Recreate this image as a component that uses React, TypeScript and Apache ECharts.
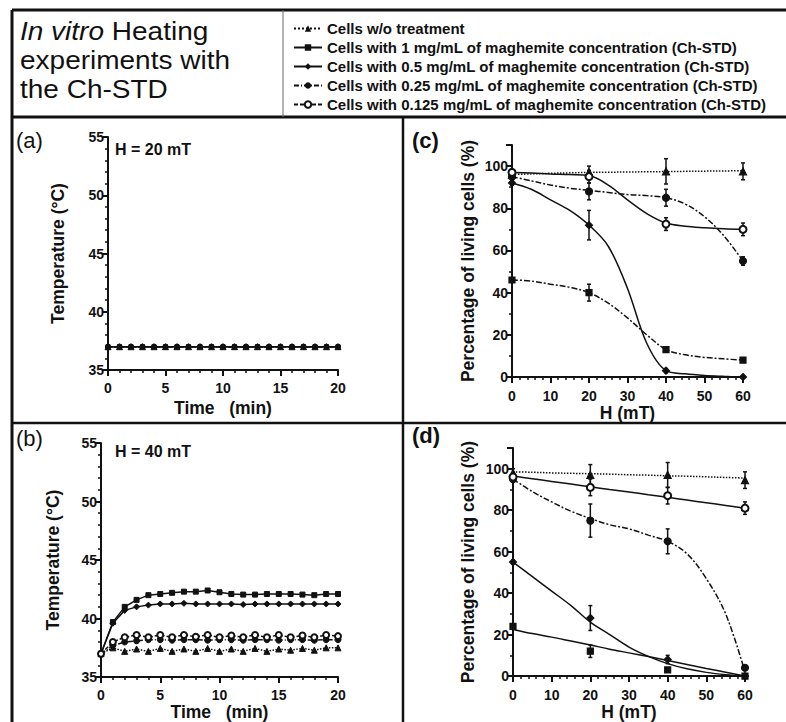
import React, { useEffect, useRef } from "react";
import * as echarts from "echarts";

// ---------- data ----------
const seriesNames = [
  "Cells w/o treatment",
  "Cells with 1 mg/mL of maghemite concentration (Ch-STD)",
  "Cells with 0.5 mg/mL of maghemite concentration (Ch-STD)",
  "Cells with 0.25 mg/mL of maghemite concentration (Ch-STD)",
  "Cells with 0.125 mg/mL of maghemite concentration (Ch-STD)",
];

const minutes = [0, 1, 2, 3, 4, 5, 6, 7, 8, 9, 10, 11, 12, 13, 14, 15, 16, 17, 18, 19, 20];

// (a) H = 20 mT
const aCtrl = [37, 37, 37, 37, 37, 37, 37, 37, 37, 37, 37, 37, 37, 37, 37, 37, 37, 37, 37, 37, 37];
const aW1 = [37, 37, 37, 37, 37, 37, 37, 37, 37, 37, 37, 37, 37, 37, 37, 37, 37, 37, 37, 37, 37];
const aW05 = [37, 37, 37, 37, 37, 37, 37, 37, 37, 37, 37, 37, 37, 37, 37, 37, 37, 37, 37, 37, 37];
const aW025 = [37, 37, 37, 37, 37, 37, 37, 37, 37, 37, 37, 37, 37, 37, 37, 37, 37, 37, 37, 37, 37];
const aW0125 = [37, 37, 37, 37, 37, 37, 37, 37, 37, 37, 37, 37, 37, 37, 37, 37, 37, 37, 37, 37, 37];

// (b) H = 40 mT
const bCtrl = [37.0, 37.5, 37.2, 37.4, 37.2, 37.45, 37.2, 37.4, 37.2, 37.45, 37.2, 37.4, 37.2, 37.45, 37.2, 37.4, 37.3, 37.45, 37.3, 37.5, 37.5];
const bW1 = [37.0, 39.7, 41.0, 41.6, 42.0, 42.1, 42.2, 42.3, 42.3, 42.4, 42.25, 42.1, 42.05, 42.05, 42.1, 42.1, 42.1, 42.05, 42.0, 42.1, 42.1];
const bW05 = [37.0, 39.6, 40.7, 41.0, 41.15, 41.25, 41.25, 41.3, 41.25, 41.25, 41.25, 41.25, 41.2, 41.25, 41.25, 41.25, 41.25, 41.25, 41.25, 41.25, 41.25];
const bW025 = [37.0, 37.7, 38.0, 38.1, 38.2, 38.2, 38.15, 38.2, 38.2, 38.15, 38.2, 38.2, 38.15, 38.2, 38.2, 38.15, 38.2, 38.2, 38.15, 38.2, 38.2];
const bW0125 = [37.0, 38.0, 38.4, 38.6, 38.4, 38.6, 38.4, 38.6, 38.45, 38.6, 38.4, 38.55, 38.4, 38.6, 38.4, 38.6, 38.4, 38.55, 38.4, 38.6, 38.5];

// (c), (d) measured points
const fieldH = [0, 20, 40, 60];
const cCtrl = [96, 97, 97.5, 97.5];
const cCtrlErr = [2, 3, 6, 4];
const cW1 = [46, 40, 13, 8];
const cW1Err = [1, 4, 1, 1];
const cW05 = [92, 72, 3, 0];
const cW05Err = [1, 7, 1, 0];
const cW025 = [95, 88, 85, 55];
const cW025Err = [1, 4, 4, 2];
const cW0125 = [97, 95, 72.5, 70];
const cW0125Err = [1, 3, 3, 3];

const dCtrl = [98, 97, 97, 94.5];
const dCtrlErr = [2, 5, 6, 4];
const dW1 = [24, 12, 3, 0];
const dW1Err = [1, 3, 1, 0];
const dW05 = [55, 28, 8, 0];
const dW05Err = [1, 6, 2, 0];
const dW025 = [95, 75, 65, 4];
const dW025Err = [1, 8, 6, 1];
const dW0125 = [96, 91, 87, 81];
const dW0125Err = [1, 4, 4, 3];

// fitted curves
const fitH = [0, 5, 10, 15, 20, 25, 30, 35, 40, 45, 50, 55, 60];
const cFitCtrl = [96, 96.3, 96.6, 96.8, 97, 97.1, 97.2, 97.3, 97.4, 97.5, 97.6, 97.7, 97.8];
const cFitW1 = [46, 45.5, 44, 42.5, 40, 35, 28, 20, 13, 10.5, 9.3, 8.6, 8];
const cFitW05 = [92, 89, 84, 79, 72, 62, 42, 16, 3, 1.5, 0.7, 0.3, 0];
const cFitW025 = [95, 93, 91, 89.5, 88.5, 87.5, 86.5, 86, 85, 82, 76, 67, 55];
const cFitW0125 = [97, 96.7, 96.3, 96, 95.5, 91, 84, 77.5, 73, 71.5, 70.8, 70.3, 70];

const dFitCtrl = [98.5, 98.3, 98, 97.8, 97.6, 97.4, 97.1, 96.9, 96.6, 96.4, 96.1, 95.8, 95.5];
const dFitW1 = [22.5, 20.5, 18.8, 16.9, 15, 13, 11.2, 9.4, 7.5, 5.6, 3.7, 1.9, 0];
const dFitW05 = [55, 48, 41, 34, 26, 20, 14, 9.5, 6, 3.5, 1.8, 0.7, 0];
const dFitW025 = [95, 89, 84, 79.5, 76, 73, 71, 68, 65, 59, 47, 30, 2];
const dFitW0125 = [96.5, 95.2, 93.9, 92.6, 91.3, 90, 88.8, 87.5, 86.2, 84.9, 83.6, 82.3, 81];

const FONT = "'Liberation Sans', Arial, sans-serif";
const INK = "#111";

const symbols = ["triangle", "rect", "diamond", "circle", "emptyCircle"];
const symbolSizes = [7, 6, 7, 7, 7];
const legendLineTypes: any[] = ["dotted", "solid", "solid", [5, 2, 1, 2], [4, 2]];
const cLineTypes: any[] = ["dotted", [6, 2, 2, 2], "solid", [6, 2, 2, 2], "solid"];
const dLineTypes: any[] = ["dotted", "solid", "solid", [6, 2, 2, 2], "solid"];

function axisCommon(minorSplit: number) {
  return {
    axisLine: { show: true, onZero: false, lineStyle: { color: INK, width: 2 } },
    axisTick: { show: true, length: 6, lineStyle: { color: INK, width: 2 } },
    minorTick: { show: true, splitNumber: minorSplit, length: 3, lineStyle: { color: INK, width: 1.5 } },
    splitLine: { show: false },
    minorSplitLine: { show: false },
    nameLocation: "middle",
    nameTextStyle: { color: INK, fontFamily: FONT, fontWeight: "bold", fontSize: 17.5 },
  };
}

function labelStyle(margin: number) {
  return { color: INK, fontFamily: FONT, fontWeight: "bold", fontSize: 14, margin };
}

function zipXY(xs: number[], ys: number[]) {
  return xs.map((x, i) => [x, ys[i]]);
}

function errorSeries(xi: number, ys: number[], errs: number[]) {
  const data = fieldH.map((h, i) => [h, ys[i], errs[i]]).filter((d) => d[2] > 0);
  return {
    type: "custom",
    xAxisIndex: xi,
    yAxisIndex: xi,
    silent: true,
    z: 4,
    data,
    renderItem: (params: any, api: any) => {
      const x = api.value(0);
      const y = api.value(1);
      const e = api.value(2);
      const p1 = api.coord([x, y + e]);
      const p2 = api.coord([x, y - e]);
      const st = { stroke: INK, lineWidth: 1.5 };
      return {
        type: "group",
        children: [
          { type: "line", shape: { x1: p1[0], y1: p1[1], x2: p2[0], y2: p2[1] }, style: st },
          { type: "line", shape: { x1: p1[0] - 2, y1: p1[1], x2: p1[0] + 2, y2: p1[1] }, style: st },
          { type: "line", shape: { x1: p2[0] - 2, y1: p2[1], x2: p2[0] + 2, y2: p2[1] }, style: st },
        ],
      };
    },
  };
}

export default function App() {
  const ref = useRef<HTMLDivElement>(null);

  useEffect(() => {
    document.body.style.margin = "0";
    if (!ref.current) return;
    const chart = echarts.init(ref.current, null, { renderer: "svg" });

    const aSets = [aCtrl, aW1, aW05, aW025, aW0125];
    const bSets = [bCtrl, bW1, bW05, bW025, bW0125];
    const cSets = [cCtrl, cW1, cW05, cW025, cW0125];
    const cErrs = [cCtrlErr, cW1Err, cW05Err, cW025Err, cW0125Err];
    const cFits = [cFitCtrl, cFitW1, cFitW05, cFitW025, cFitW0125];
    const dSets = [dCtrl, dW1, dW05, dW025, dW0125];
    const dErrs = [dCtrlErr, dW1Err, dW05Err, dW025Err, dW0125Err];
    const dFits = [dFitCtrl, dFitW1, dFitW05, dFitW025, dFitW0125];

    const series: any[] = [];
    // panel (a): draw control last so triangles are on top
    [1, 2, 3, 4, 0].forEach((g) => {
      series.push({
        type: "line",
        name: seriesNames[g],
        xAxisIndex: 0,
        yAxisIndex: 0,
        data: zipXY(minutes, aSets[g]),
        symbol: symbols[g],
        symbolSize: g === 0 ? 6 : 4,
        itemStyle: { color: INK, borderColor: INK },
        lineStyle: { color: INK, width: 1.5, type: legendLineTypes[g] },
      });
    });
    // panel (b)
    [0, 1, 2, 3, 4].forEach((g) => {
      series.push({
        type: "line",
        name: "b-" + g,
        xAxisIndex: 1,
        yAxisIndex: 1,
        data: zipXY(minutes, bSets[g]),
        symbol: symbols[g],
        symbolSize: symbolSizes[g] - 1,
        itemStyle: { color: INK, borderColor: INK },
        lineStyle: { color: INK, width: 1.5, type: legendLineTypes[g] },
      });
    });
    // panels (c), (d)
    const pans = [
      { idx: 2, sets: cSets, errs: cErrs, fits: cFits, types: cLineTypes, tag: "c" },
      { idx: 3, sets: dSets, errs: dErrs, fits: dFits, types: dLineTypes, tag: "d" },
    ];
    pans.forEach((p) => {
      [0, 1, 2, 3, 4].forEach((g) => {
        series.push({
          type: "line",
          name: p.tag + "-fit-" + g,
          xAxisIndex: p.idx,
          yAxisIndex: p.idx,
          data: zipXY(fitH, p.fits[g]),
          smooth: 0.35,
          symbol: "none",
          lineStyle: { color: INK, width: 1.5, type: p.types[g] },
          z: 2,
        });
        series.push(errorSeries(p.idx, p.sets[g], p.errs[g]));
        series.push({
          type: "scatter",
          name: p.tag + "-pts-" + g,
          xAxisIndex: p.idx,
          yAxisIndex: p.idx,
          data: zipXY(fieldH, p.sets[g]),
          symbol: symbols[g],
          symbolSize: symbolSizes[g],
          itemStyle: { color: INK, borderColor: INK, borderWidth: 1.2, opacity: 1 },
          z: 5,
        });
      });
    });

    const tempY = (gap: number) => ({
      type: "value",
      min: 35,
      max: 55,
      interval: 5,
      name: "Temperature (°C)",
      nameGap: gap,
      axisLabel: labelStyle(4),
      ...axisCommon(5),
    });
    const timeX = (gap: number) => ({
      type: "value",
      min: 0,
      max: 20,
      interval: 5,
      name: "Time   (min)",
      nameGap: gap,
      axisLabel: labelStyle(11),
      ...axisCommon(5),
    });
    const fieldX = (gap: number) => ({
      type: "value",
      min: 0,
      max: 60,
      interval: 10,
      name: "H (mT)",
      nameGap: gap,
      axisLabel: labelStyle(12),
      ...axisCommon(5),
    });
    const pctY = (gap: number) => ({
      type: "value",
      min: 0,
      max: 110,
      interval: 20,
      name: "Percentage of living cells (%)",
      nameGap: gap,
      axisLabel: { ...labelStyle(4), showMaxLabel: false },
      ...axisCommon(2),
    });

    const line = (x1: number, y1: number, x2: number, y2: number, w: number, c = INK) => ({
      type: "line",
      z: 100,
      silent: true,
      shape: { x1, y1, x2, y2 },
      style: { stroke: c, lineWidth: w },
    });
    const label = (t: string, left: number, top: number, size: number, weight: string) => ({
      type: "text",
      left,
      top,
      z: 100,
      style: { text: t, fontFamily: FONT, fontSize: size, fontWeight: weight, fill: INK },
    });

    chart.setOption({
      animation: false,
      backgroundColor: "#fff",
      grid: [
        { left: 108, top: 137, width: 230, height: 233 },
        { left: 101, top: 443, width: 237, height: 236 },
        { left: 512, top: 145, width: 231, height: 232 },
        { left: 513, top: 448, width: 232, height: 234 },
      ],
      xAxis: [
        { gridIndex: 0, ...timeX(29) },
        { gridIndex: 1, ...timeX(25) },
        { gridIndex: 2, ...fieldX(24) },
        { gridIndex: 3, ...fieldX(22) },
      ],
      yAxis: [
        { gridIndex: 0, ...tempY(41) },
        { gridIndex: 1, ...tempY(39) },
        { gridIndex: 2, ...pctY(35) },
        { gridIndex: 3, ...pctY(36) },
      ],
      legend: {
        orient: "vertical",
        left: 288,
        top: 16,
        itemWidth: 28,
        itemHeight: 8,
        itemGap: 4,
        selectedMode: false,
        data: seriesNames,
        textStyle: { fontFamily: FONT, fontWeight: "bold", fontSize: 15, color: INK },
      },
      graphic: [
        line(12, 10, 786, 10, 3),
        line(12, 10, 12, 722, 3),
        line(12, 117, 786, 117, 3),
        line(283, 10, 283, 117, 1, "#666"),
        line(12, 423, 786, 423, 2.5),
        line(403, 117, 403, 722, 2.5),
        {
          type: "group",
          x: 20,
          y: 17,
          scaleX: 1.12,
          z: 100,
          children: [
            {
              type: "text",
              x: 0,
              y: 0,
              z: 100,
              style: {
                text: "{i|In vitro} Heating\nexperiments with\nthe Ch-STD",
                fontFamily: FONT,
                fontSize: 25,
                lineHeight: 29,
                fill: INK,
                rich: { i: { fontStyle: "italic", fontFamily: FONT, fontSize: 25, lineHeight: 29 } },
              },
            },
          ],
        },
        label("(a)", 16, 129, 22, "normal"),
        label("(b)", 16, 427, 22, "normal"),
        label("(c)", 412, 129, 22, "bold"),
        label("(d)", 412, 424, 22, "bold"),
        label("H = 20 mT", 115, 141, 16, "bold"),
        label("H = 40 mT", 115, 443, 16, "bold"),
      ],
      series,
    } as any);

    return () => chart.dispose();
  }, []);

  return <div ref={ref} style={{ width: 786, height: 722 }} />;
}
